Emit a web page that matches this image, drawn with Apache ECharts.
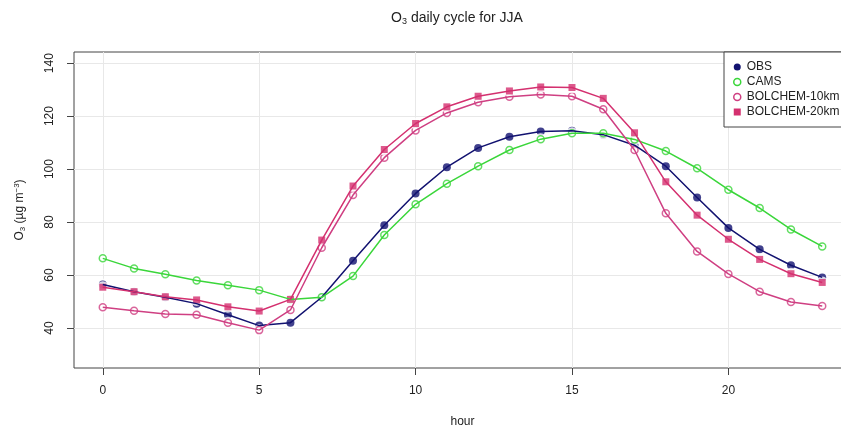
<!DOCTYPE html>
<html>
<head>
<meta charset="utf-8">
<script src="https://cdn.jsdelivr.net/npm/echarts@6/dist/echarts.min.js"></script>
<style>
  html, body { margin: 0; padding: 0; background: #ffffff; }
  #chart { width: 841px; height: 426px; }
</style>
</head>
<body>
<div id="chart"></div>
<script>
// Hourly mean ozone concentration (µg m-3), summer (JJA)
const hours = [0, 1, 2, 3, 4, 5, 6, 7, 8, 9, 10, 11, 12, 13, 14, 15, 16, 17, 18, 19, 20, 21, 22, 23];
const obs = [56.4, 53.7, 51.6, 49.2, 45.0, 40.9, 42.0, 51.6, 65.4, 78.8, 90.8, 100.7, 108.0, 112.2, 114.2, 114.5, 113.0, 109.0, 101.1, 89.3, 77.8, 69.7, 63.7, 59.1];
const cams = [66.3, 62.5, 60.3, 57.9, 56.1, 54.3, 50.8, 51.6, 59.6, 75.1, 86.7, 94.5, 101.1, 107.2, 111.3, 113.5, 113.5, 111.2, 106.8, 100.3, 92.2, 85.3, 77.2, 70.8];
const bolchem10 = [47.8, 46.5, 45.3, 45.0, 42.0, 39.2, 46.8, 70.3, 90.2, 104.3, 114.6, 121.2, 125.2, 127.3, 128.2, 127.5, 122.6, 107.2, 83.3, 68.9, 60.4, 53.7, 49.8, 48.3];
const bolchem20 = [55.4, 53.7, 51.8, 50.6, 48.0, 46.4, 50.8, 73.2, 93.6, 107.4, 117.2, 123.5, 127.5, 129.5, 131.0, 130.8, 126.7, 113.7, 95.2, 82.6, 73.5, 65.9, 60.5, 57.2];

const xTicks = [0, 5, 10, 15, 20];
const yTicks = [40, 60, 80, 100, 120, 140];

const colors = {
  obs: '#121270',
  cams: '#3ad63a',
  b10: '#cf3f82',
  b20: '#d4306f'
};

const pair = (vals) => hours.map((h, i) => [h, vals[i]]);
const font = 'Liberation Sans, Arial, Helvetica, sans-serif';

// Points joined by lines that stop short of each marker:
// the line, a white halo that opens the gap, then the marker itself.
function pointLineSeries(name, vals, color, symbol, filled, size) {
  const data = pair(vals);
  return [
    {
      name: name,
      type: 'line',
      data: data,
      showSymbol: false,
      symbol: 'none',
      lineStyle: { color: color, width: 1.5 },
      emphasis: { disabled: true },
      silent: true
    },
    {
      name: name,
      type: 'scatter',
      data: data,
      symbol: 'circle',
      symbolSize: 12,
      itemStyle: { color: '#ffffff', borderWidth: 0 },
      emphasis: { disabled: true },
      silent: true
    },
    {
      name: name,
      type: 'scatter',
      data: data,
      symbol: symbol,
      symbolSize: size,
      itemStyle: {
        color: filled ? color : '#ffffff',
        borderColor: color,
        borderWidth: filled ? 0 : 1.5
      },
      emphasis: { disabled: true },
      silent: true
    }
  ];
}

const chart = echarts.init(document.getElementById('chart'), null, { renderer: 'canvas' });

chart.setOption({
  backgroundColor: '#ffffff',
  animation: false,
  textStyle: { fontFamily: font },
  graphic: [{
    type: 'text',
    x: 457,
    y: 18,
    style: {
      text: 'O{sub|3} daily cycle for JJA',
      font: '14px ' + font,
      fill: '#222222',
      textAlign: 'center',
      textVerticalAlign: 'middle',
      rich: {
        sub: { fontSize: 9, fontFamily: font, fill: '#222222', padding: [7, 0, 0, 0] }
      }
    }
  }],
  grid: {
    left: 74,
    top: 52,
    right: -10,
    bottom: 58,
    outerBoundsMode: 'none',
    containLabel: false,
    show: true,
    borderColor: '#444444',
    borderWidth: 1
  },
  legend: {
    orient: 'vertical',
    left: 724,
    top: 52,
    padding: [8, 12, 8, 9],
    itemGap: 1,
    itemWidth: 7,
    itemHeight: 7,
    borderColor: '#444444',
    borderWidth: 1,
    backgroundColor: '#ffffff',
    textStyle: { fontSize: 12, color: '#222222', fontFamily: font, lineHeight: 14, padding: [0, 0, 0, 1] },
    data: [
      { name: 'OBS', icon: 'circle', itemStyle: { color: colors.obs, borderWidth: 0 } },
      { name: 'CAMS', icon: 'circle', itemStyle: { color: '#ffffff', borderColor: colors.cams, borderWidth: 1.5 } },
      { name: 'BOLCHEM-10km', icon: 'circle', itemStyle: { color: '#ffffff', borderColor: colors.b10, borderWidth: 1.5 } },
      { name: 'BOLCHEM-20km', icon: 'rect', itemStyle: { color: colors.b20, borderWidth: 0 } }
    ],
    selectedMode: false
  },
  xAxis: {
    type: 'value',
    min: -0.92,
    max: 23.92,
    name: 'hour',
    nameLocation: 'middle',
    nameGap: 48,
    nameTextStyle: { fontSize: 12, color: '#222222', fontFamily: font },
    axisLine: { show: false, onZero: false },
    axisTick: { show: true, inside: false, length: 7, customValues: xTicks, lineStyle: { color: '#444444' } },
    axisLabel: { customValues: xTicks, margin: 17, fontSize: 12, color: '#222222', fontFamily: font },
    splitLine: { show: true, lineStyle: { color: '#e8e8e8', width: 1 } }
  },
  yAxis: {
    type: 'value',
    min: 24.9,
    max: 144.2,
    name: 'O{sub|3} (µg m{sup|−3})',
    nameLocation: 'middle',
    nameRotate: 90,
    nameGap: 47,
    nameTextStyle: {
      fontSize: 12, color: '#222222', fontFamily: font,
      rich: {
        sub: { fontSize: 8, color: '#222222', fontFamily: font, padding: [6, 0, 0, 0] },
        sup: { fontSize: 8, color: '#222222', fontFamily: font, padding: [0, 0, 6, 0] }
      }
    },
    axisLine: { show: false, onZero: false },
    axisTick: { show: true, inside: false, length: 7, customValues: yTicks, lineStyle: { color: '#444444' } },
    axisLabel: { customValues: yTicks, rotate: 90, margin: 18, fontSize: 12, color: '#222222', fontFamily: font },
    splitLine: { show: true, lineStyle: { color: '#e8e8e8', width: 1 } }
  },
  series: [].concat(
    pointLineSeries('OBS', obs, colors.obs, 'circle', true, 8),
    pointLineSeries('CAMS', cams, colors.cams, 'circle', false, 7),
    pointLineSeries('BOLCHEM-10km', bolchem10, colors.b10, 'circle', false, 7),
    pointLineSeries('BOLCHEM-20km', bolchem20, colors.b20, 'rect', true, 7)
  )
});
</script>
</body>
</html>
